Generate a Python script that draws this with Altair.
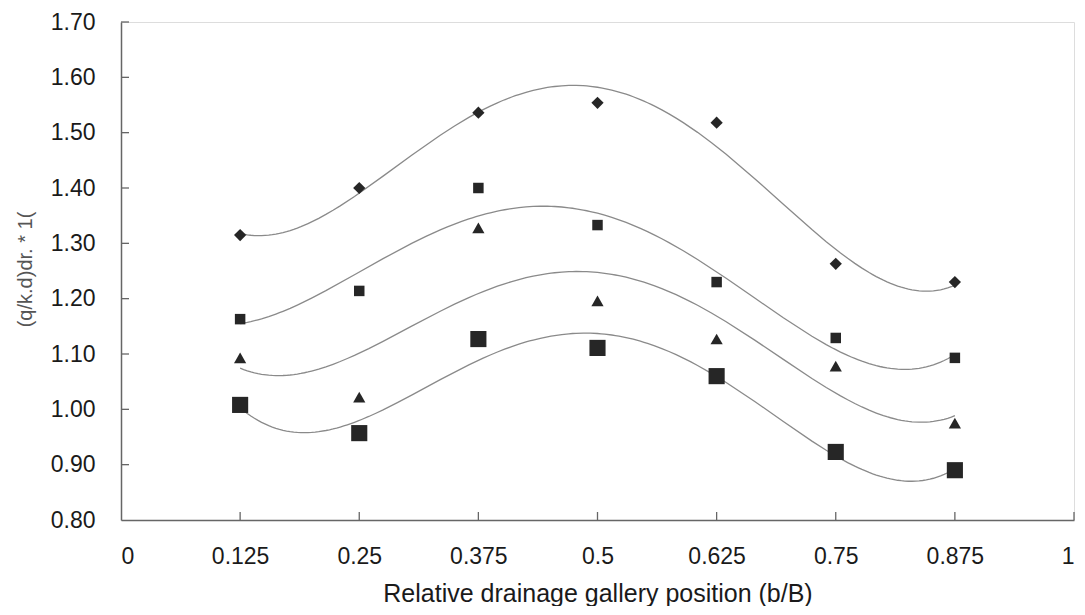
import altair as alt
import pandas as pd

x_vals = [0.125, 0.25, 0.375, 0.5, 0.625, 0.75, 0.875]
s_diamond = [1.315, 1.400, 1.536, 1.554, 1.518, 1.263, 1.230]
s_small_sq = [1.163, 1.214, 1.400, 1.333, 1.230, 1.129, 1.093]
s_triangle = [1.093, 1.022, 1.328, 1.196, 1.127, 1.078, 0.975]
s_large_sq = [1.008, 0.957, 1.127, 1.111, 1.060, 0.923, 0.890]

series_names = ["S1", "S2", "S3", "S4"]
series_vals = [s_diamond, s_small_sq, s_triangle, s_large_sq]
shapes = ["diamond", "square", "triangle-up", "square"]
sizes = [150, 110, 150, 260]

x_ticks = [0, 0.125, 0.25, 0.375, 0.5, 0.625, 0.75, 0.875, 1]
y_ticks = [0.80, 0.90, 1.00, 1.10, 1.20, 1.30, 1.40, 1.50, 1.60, 1.70]

rows = []
for name, vals in zip(series_names, series_vals):
    for xv, yv in zip(x_vals, vals):
        rows.append({"x": xv, "y": yv, "s": name})
df = pd.DataFrame(rows)

W, H = 953, 498
FONT = "Liberation Sans"
AXC = "#666666"

xs = alt.Scale(domain=[0, 1], nice=False, zero=False)
ys = alt.Scale(domain=[0.8, 1.7], nice=False, zero=False)

xaxis = alt.Axis(values=x_ticks, labelExpr="format(datum.value, '.3~f')", ticks=False, grid=False,
                 labelPadding=25, labelFontSize=23, labelFont=FONT, labelColor="#1a1a1a",
                 domainColor=AXC, domainWidth=1.5,
                 title="Relative drainage gallery position (b/B)",
                 titleFont=FONT, titleFontSize=25, titleFontWeight="normal",
                 titleColor="#1a1a1a", titleX=W / 2, titleY=81, titleAlign="center",
                 titleBaseline="alphabetic")
yaxis = alt.Axis(values=y_ticks, format=".2f", ticks=False, grid=False,
                 labelPadding=26, labelFontSize=23, labelFont=FONT, labelColor="#1a1a1a",
                 domainColor=AXC, domainWidth=1.5,
                 title="(q/k.d)dr. * 1(",
                 titleFont=FONT, titleFontSize=20, titleFontWeight="normal",
                 titleColor="#555", titleX=-96, titleY=H / 2 - 2, titleAlign="center",
                 titleBaseline="middle", titleAngle=270)

base = alt.Chart(df)

trend = base.transform_regression(
    "x", "y", method="poly", order=4, groupby=["s"]
).mark_line(color="#8a8a8a", strokeWidth=1.3).encode(
    x=alt.X("x:Q", scale=xs, axis=xaxis),
    y=alt.Y("y:Q", scale=ys, axis=yaxis),
    detail="s:N",
)

point_layers = []
for name, shp, sz in zip(series_names, shapes, sizes):
    point_layers.append(
        base.transform_filter(alt.datum.s == name).mark_point(
            filled=True, opacity=1, color="#262626", shape=shp, size=sz
        ).encode(
            x=alt.X("x:Q", scale=xs),
            y=alt.Y("y:Q", scale=ys),
        )
    )

xt = alt.Chart(pd.DataFrame({"t": x_ticks[1:]})).mark_rule(color=AXC, strokeWidth=1.3).encode(
    x=alt.X("t:Q", scale=xs),
    y=alt.value(H),
    y2=alt.value(H - 8),
)
yt = alt.Chart(pd.DataFrame({"t": y_ticks[1:]})).mark_rule(color=AXC, strokeWidth=1.3).encode(
    y=alt.Y("t:Q", scale=ys),
    x=alt.value(0),
    x2=alt.value(8),
)

chart = alt.layer(trend, xt, yt, *point_layers).properties(
    width=W, height=H,
    autosize=alt.AutoSizeParams(type="none"),
    padding={"left": 113, "top": 14, "right": 3, "bottom": 86},
).configure_view(stroke="#b5b5b5", strokeWidth=1.2).configure(background="white")

chart.save("out.html", embed_options={"renderer": "svg", "actions": False})
